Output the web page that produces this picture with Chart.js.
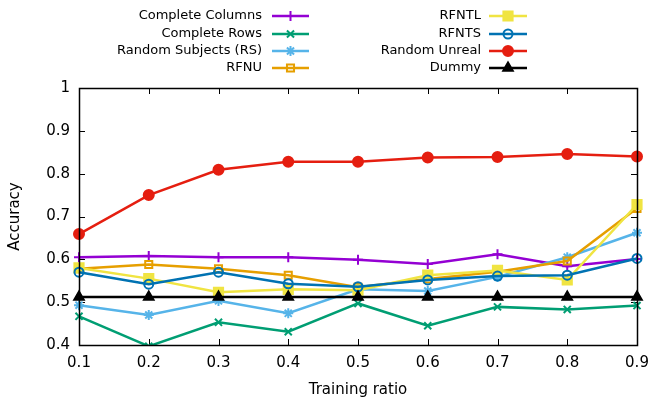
<!DOCTYPE html>
<html>
<head>
<meta charset="utf-8">
<script src="https://cdn.jsdelivr.net/npm/chart.js@4.4.1/dist/chart.umd.min.js"></script>
<style>
  html, body { margin: 0; padding: 0; background: #fff; }
  #chart { display: block; }
</style>
</head>
<body>
<canvas id="chart" width="664" height="399"></canvas>
<script>
// Training ratios (x categories)
const ratios = ['0.1', '0.2', '0.3', '0.4', '0.5', '0.6', '0.7', '0.8', '0.9'];
const yTicks = ['0.4', '0.5', '0.6', '0.7', '0.8', '0.9', '1'];

// Accuracy per method
const completeColumns = [0.605, 0.608, 0.605, 0.605, 0.599, 0.589, 0.612, 0.584, 0.601];
const completeRows    = [0.467, 0.397, 0.453, 0.431, 0.497, 0.445, 0.489, 0.483, 0.492];
const randomSubjects  = [0.493, 0.470, 0.503, 0.474, 0.530, 0.526, 0.559, 0.605, 0.662];
const rfnu            = [0.578, 0.588, 0.578, 0.563, 0.535, 0.554, 0.571, 0.596, 0.719];
const rfntl           = [0.580, 0.555, 0.523, 0.530, 0.528, 0.563, 0.574, 0.552, 0.728];
const rfnts           = [0.570, 0.542, 0.570, 0.543, 0.536, 0.552, 0.561, 0.563, 0.602];
const randomUnreal    = [0.659, 0.750, 0.809, 0.828, 0.828, 0.838, 0.839, 0.846, 0.840];
const dummy           = [0.512, 0.512, 0.512, 0.512, 0.512, 0.512, 0.512, 0.512, 0.512];

const FONT = 'DejaVu Sans';

function series(label, data, color, style, radius, filled) {
    return {
        label: label,
        data: data,
        borderColor: color,
        backgroundColor: color,
        borderWidth: 2.5,
        pointStyle: style,
        pointRadius: radius,
        pointBorderWidth: 2,
        pointBorderColor: color,
        pointBackgroundColor: filled ? color : 'rgba(0,0,0,0)',
        tension: 0
    };
}

const datasets = [
    series('Complete Columns', completeColumns, '#9400d3', 'cross', 5, false),
    series('Complete Rows', completeRows, '#009e73', 'crossRot', 5, false),
    series('Random Subjects (RS)', randomSubjects, '#56b4e9', 'star', 5, false),
    series('RFNU', rfnu, '#e69f00', 'rect', 5, false),
    series('RFNTL', rfntl, '#f0e442', 'rect', 6.5, true),
    series('RFNTS', rfnts, '#0072b2', 'circle', 4.5, false),
    series('Random Unreal', randomUnreal, '#e51e10', 'circle', 5, true),
    series('Dummy', dummy, '#000000', 'triangle', 5.5, true)
];
// later series drawn on top, like gnuplot
datasets.forEach((d, i) => { d.order = datasets.length - i; });

// Two-column legend above the plot, text right-aligned before the sample
const legendPlugin = {
    id: 'topLegend',
    afterDraw(chart) {
        const ctx = chart.ctx;
        const cols = [{ textRight: 262, lineStart: 272, lineEnd: 309 },
                      { textRight: 481, lineStart: 489, lineEnd: 527 }];
        const rows = [16, 34, 51, 68];
        ctx.save();
        ctx.font = '13px ' + FONT;
        ctx.textAlign = 'right';
        ctx.textBaseline = 'middle';
        chart.data.datasets.forEach((ds, i) => {
            const col = cols[Math.floor(i / 4)];
            const y = rows[i % 4];
            ctx.fillStyle = '#000';
            ctx.fillText(ds.label, col.textRight, y);
            ctx.strokeStyle = ds.borderColor;
            ctx.lineWidth = ds.borderWidth;
            ctx.beginPath();
            ctx.moveTo(col.lineStart, y);
            ctx.lineTo(col.lineEnd, y);
            ctx.stroke();
            ctx.fillStyle = ds.pointBackgroundColor;
            ctx.strokeStyle = ds.pointBorderColor;
            ctx.lineWidth = ds.pointBorderWidth;
            Chart.helpers.drawPoint(ctx, {
                pointStyle: ds.pointStyle,
                radius: ds.pointRadius,
                rotation: 0,
                borderWidth: ds.pointBorderWidth
            }, (col.lineStart + col.lineEnd) / 2, y);
        });
        ctx.restore();
    }
};

// Frame with inward ticks on all four sides
const framePlugin = {
    id: 'frame',
    beforeDatasetsDraw(chart) {
        const ctx = chart.ctx;
        const a = chart.chartArea;
        const xs = chart.scales.x;
        const ys = chart.scales.y;
        const len = 6;
        ctx.save();
        ctx.strokeStyle = '#000';
        ctx.lineWidth = 1;
        ctx.beginPath();
        xs.ticks.forEach((t, i) => {
            const x = Math.round(xs.getPixelForTick(i)) + 0.5;
            ctx.moveTo(x, a.bottom); ctx.lineTo(x, a.bottom - len);
            ctx.moveTo(x, a.top); ctx.lineTo(x, a.top + len);
        });
        ys.ticks.forEach((t, i) => {
            const y = Math.round(ys.getPixelForTick(i)) + 0.5;
            ctx.moveTo(a.left, y); ctx.lineTo(a.left + len, y);
            ctx.moveTo(a.right, y); ctx.lineTo(a.right - len, y);
        });
        ctx.stroke();
        ctx.restore();
    },
    afterDatasetsDraw(chart) {
        const ctx = chart.ctx;
        const a = chart.chartArea;
        ctx.save();
        ctx.strokeStyle = '#000';
        ctx.lineWidth = 1.5;
        ctx.strokeRect(Math.round(a.left) + 0.5, Math.round(a.top) + 0.5,
            Math.round(a.right - a.left), Math.round(a.bottom - a.top));
        ctx.restore();
    }
};

new Chart(document.getElementById('chart'), {
    type: 'line',
    data: { labels: ratios, datasets: datasets },
    options: {
        responsive: false,
        devicePixelRatio: 1,
        animation: false,
        layout: { padding: { top: 88, right: 27, left: 0, bottom: 0 } },
        plugins: {
            legend: { display: false },
            tooltip: { enabled: false }
        },
        scales: {
            x: {
                type: 'category',
                offset: false,
                grid: { display: false, drawTicks: false },
                border: { display: false },
                ticks: {
                    color: '#000',
                    font: { family: FONT, size: 15 },
                    padding: 9,
                    maxRotation: 0
                },
                title: {
                    display: true,
                    text: 'Training ratio',
                    color: '#000',
                    font: { family: FONT, size: 15 },
                    padding: { top: 7, bottom: 0 }
                },
                afterFit(scale) { scale.height = 54; }
            },
            y: {
                min: 0.4,
                max: 1,
                grid: { display: false, drawTicks: false },
                border: { display: false },
                ticks: {
                    stepSize: 0.1,
                    color: '#000',
                    font: { family: FONT, size: 15 },
                    padding: 9,
                    callback: (v, i) => yTicks[i]
                },
                title: {
                    display: true,
                    text: 'Accuracy',
                    color: '#000',
                    font: { family: FONT, size: 15 },
                    padding: { top: 6, bottom: 0 }
                },
                afterFit(scale) { scale.width = 79; }
            }
        }
    },
    plugins: [legendPlugin, framePlugin]
});
</script>
</body>
</html>
